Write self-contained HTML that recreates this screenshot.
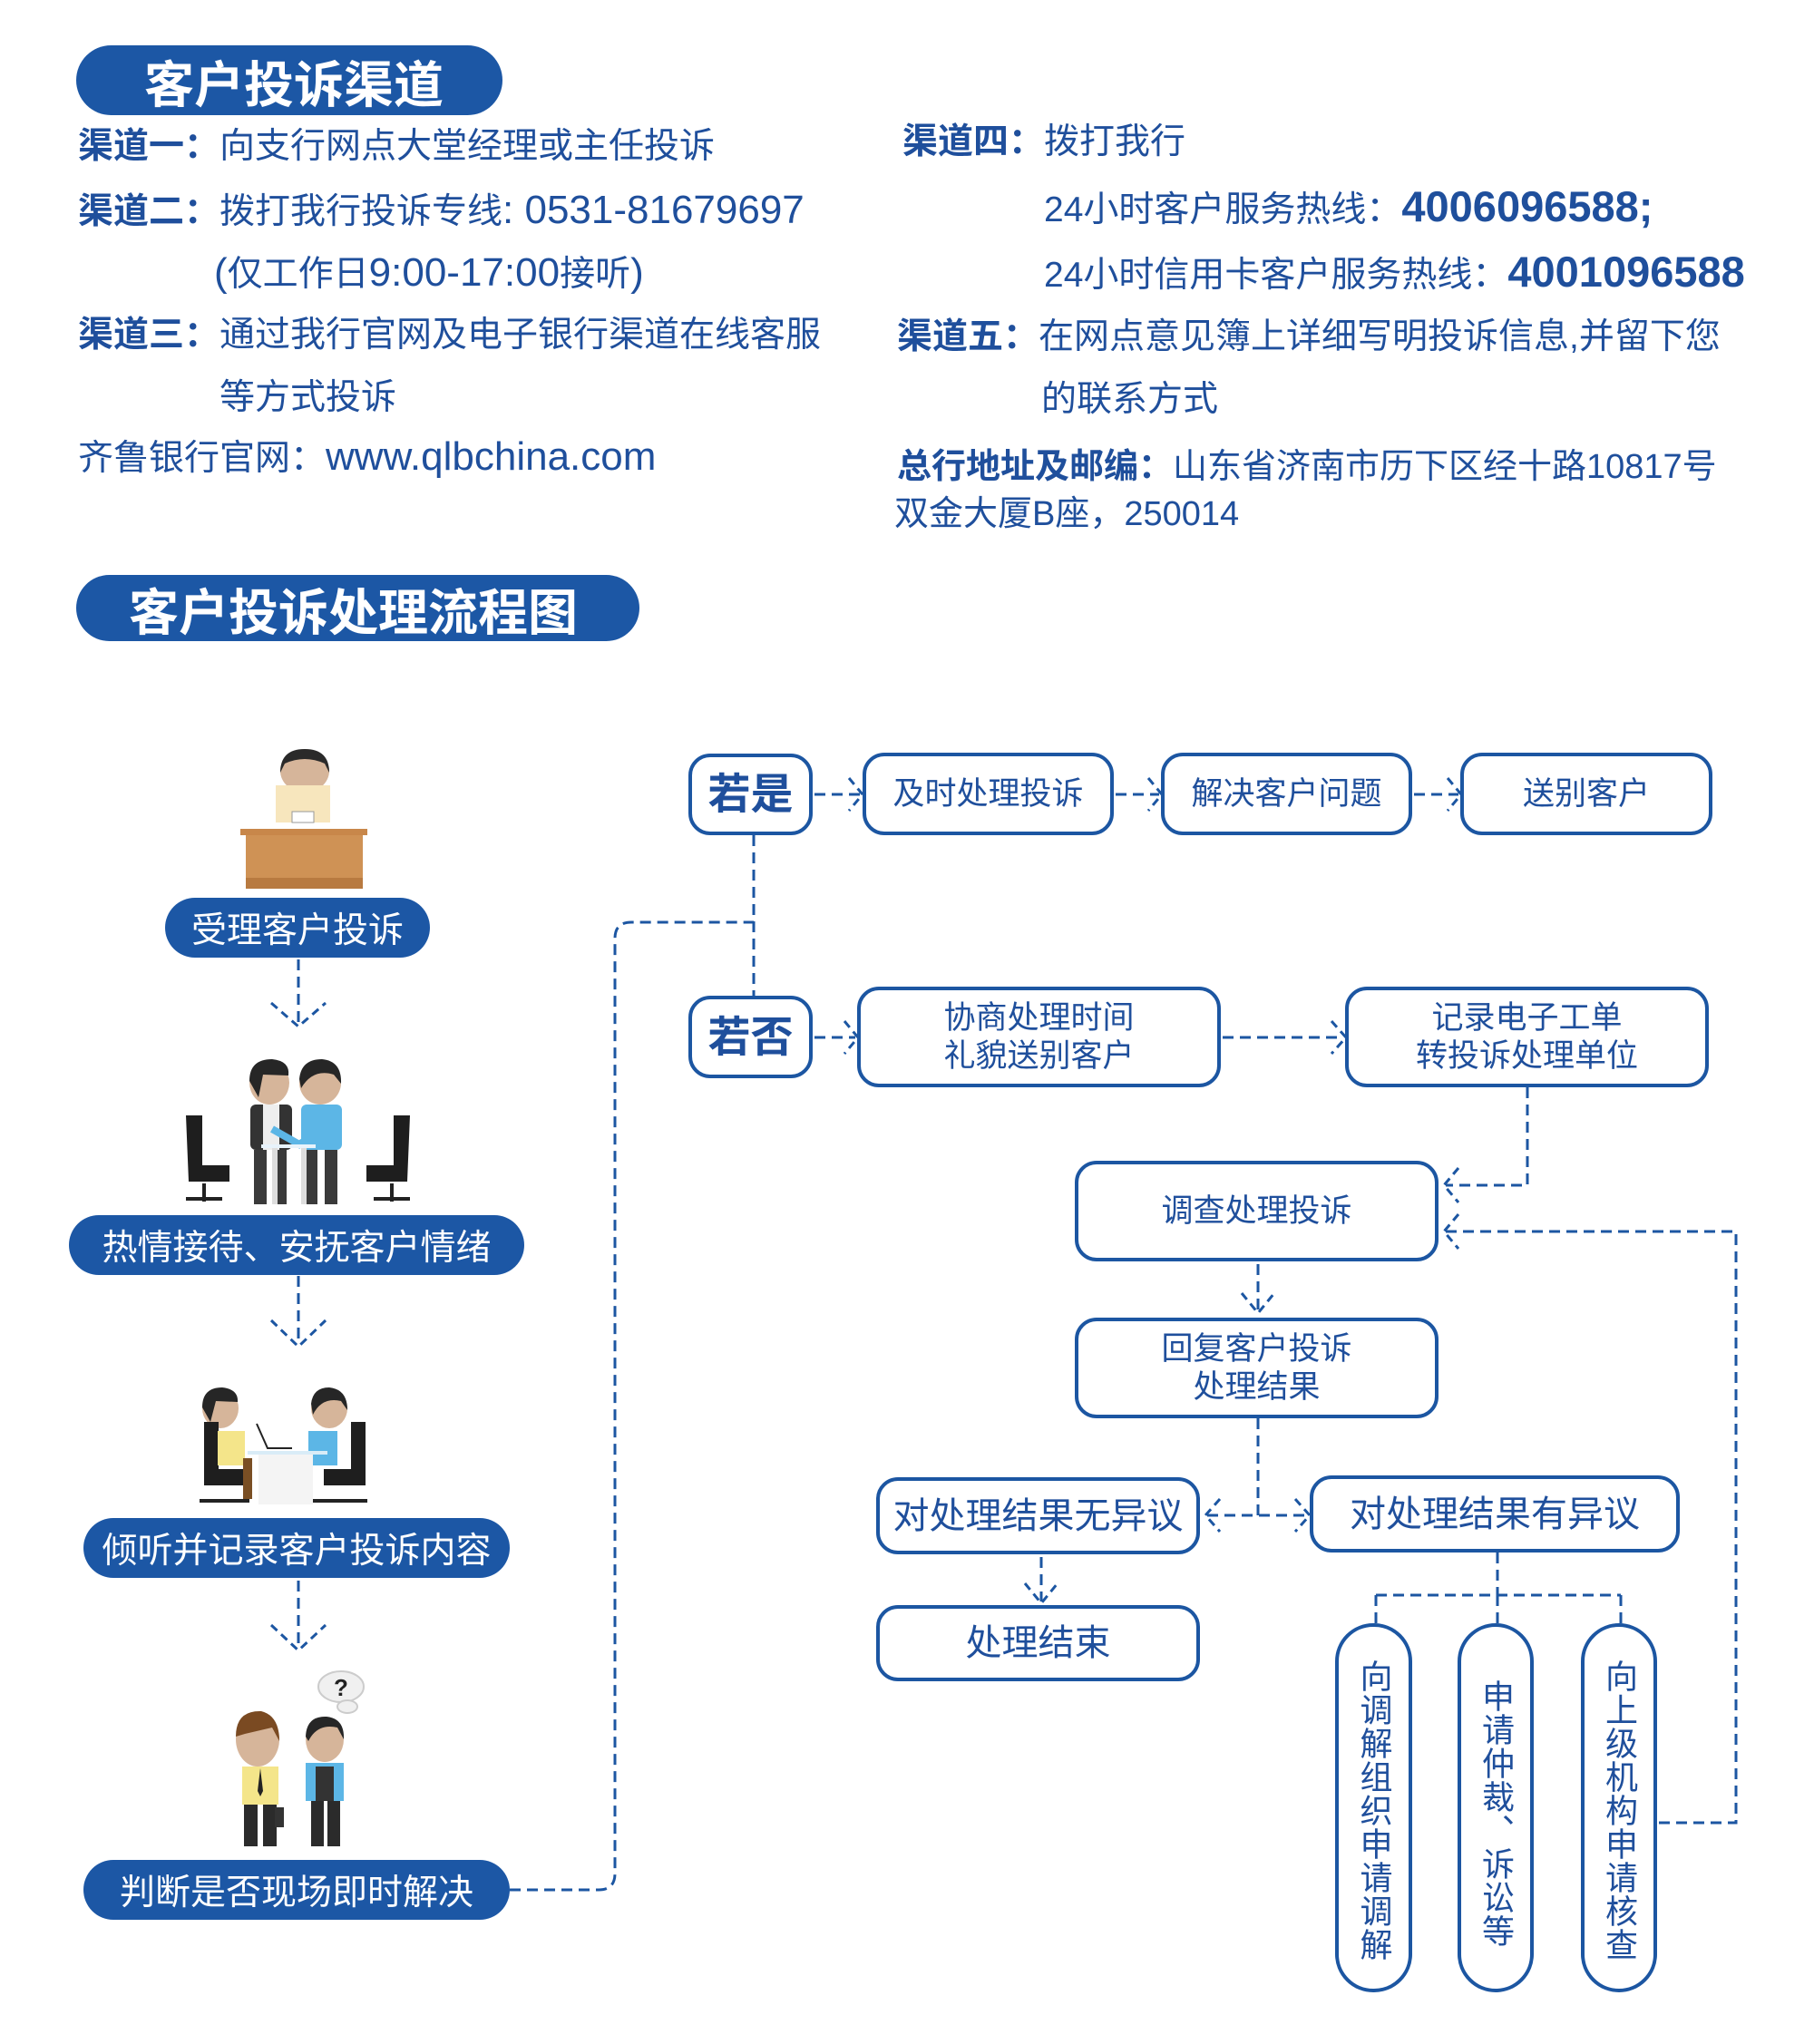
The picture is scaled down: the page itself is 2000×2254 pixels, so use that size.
<!DOCTYPE html>
<html><head><meta charset="utf-8">
<style>
html,body{margin:0;padding:0;background:#fff;}
body{width:2000px;height:2254px;position:relative;overflow:hidden;font-family:"Liberation Sans","Noto Sans CJK SC",sans-serif;color:#1f4f9c;}
.a{position:absolute;white-space:nowrap;line-height:1;}
.t{font-size:39px;}
.L{font-size:44px;}
.b{font-weight:bold;}
.pill{position:absolute;background:#1c57a5;color:#fff;border-radius:60px;display:flex;align-items:center;justify-content:center;white-space:nowrap;}
.box{position:absolute;box-sizing:border-box;border:4px solid #1c56a2;border-radius:24px;background:#fff;display:flex;align-items:center;justify-content:center;text-align:center;font-size:35px;line-height:42px;color:#1f4f9c;}
.v{writing-mode:vertical-rl;text-orientation:upright;justify-content:flex-start;padding-top:36px;font-size:36px;line-height:36px;border-radius:42px;letter-spacing:1px;}
svg{position:absolute;left:0;top:0;}
</style></head><body>

<div class="pill b" style="left:84px;top:50px;width:470px;height:77px;font-size:55px;padding-left:10px;box-sizing:border-box;">客户投诉渠道</div>

<div class="a t" style="left:86px;top:142px;"><span class="b">渠道一：</span>向支行网点大堂经理或主任投诉</div>
<div class="a t" style="left:86px;top:210px;"><span class="b">渠道二：</span>拨打我行投诉专线<span class="L">: 0531-81679697</span></div>
<div class="a t" style="left:236px;top:279px;"><span class="L">(</span>仅工作日<span class="L">9:00-17:00</span>接听<span class="L">)</span></div>
<div class="a t" style="left:86px;top:350px;"><span class="b">渠道三：</span>通过我行官网及电子银行渠道在线客服</div>
<div class="a t" style="left:242px;top:419px;">等方式投诉</div>
<div class="a t" style="left:86px;top:482px;">齐鲁银行官网：<span class="L">www.qlbchina.com</span></div>

<div class="a t" style="left:995px;top:137px;"><span class="b">渠道四：</span>拨打我行</div>
<div class="a t" style="left:1151px;top:204px;">24小时客户服务热线：<span class="b" style="font-size:47px;">4006096588;</span></div>
<div class="a t" style="left:1151px;top:276px;">24小时信用卡客户服务热线：<span class="b" style="font-size:47px;">4001096588</span></div>
<div class="a t" style="left:989px;top:352px;"><span class="b">渠道五：</span>在网点意见簿上详细写明投诉信息,并留下您</div>
<div class="a t" style="left:1148px;top:421px;">的联系方式</div>
<div class="a t" style="left:989px;top:496px;font-size:38px;"><span class="b">总行地址及邮编：</span>山东省济南市历下区经十路10817号</div>
<div class="a t" style="left:986px;top:548px;font-size:38px;">双金大厦B座，250014</div>

<div class="pill b" style="left:84px;top:634px;width:621px;height:73px;font-size:55px;padding-right:10px;box-sizing:border-box;">客户投诉处理流程图</div>

<!-- left pills -->
<div class="pill" style="left:182px;top:990px;width:292px;height:66px;font-size:39px;">受理客户投诉</div>
<div class="pill" style="left:76px;top:1340px;width:502px;height:66px;font-size:39px;">热情接待、安抚客户情绪</div>
<div class="pill" style="left:92px;top:1674px;width:470px;height:66px;font-size:39px;">倾听并记录客户投诉内容</div>
<div class="pill" style="left:92px;top:2051px;width:470px;height:66px;font-size:39px;">判断是否现场即时解决</div>

<svg width="2000" height="2254" viewBox="0 0 2000 2254">
<g fill="none" stroke="#1c56a2" stroke-width="3" stroke-dasharray="12 7">
<path d="M329 1058V1130M329 1407V1483M329 1743V1818"/>
<path d="M562 2084H660Q678 2084 678 2066V1035Q678 1017 696 1017H831"/>
<path d="M898 876H948M1230 876H1278M1559 876H1608M831 921V1098"/>
<path d="M898 1144H943M1348 1144H1481"/>
<path d="M1684 1199V1307H1594"/>
<path d="M1829 2010H1914V1358H1594"/>
<path d="M1387 1394V1448M1387 1564V1671M1331 1671H1442M1148 1717V1766"/>
<path d="M1651 1712V1759M1517 1759H1787M1517 1759V1790M1651 1759V1790M1787 1759V1790"/>
</g>
<g fill="none" stroke="#1c56a2" stroke-width="3" stroke-dasharray="9 6">
<path d="M299 1106L329 1132L359 1106M299 1456L329 1485L359 1456M299 1792L329 1820L359 1792"/>
<path d="M936 858L951 876L936 894M1266 858L1281 876L1266 894M1596 858L1611 876L1596 894"/>
<path d="M931 1126L946 1144L931 1162M1468 1126L1484 1144L1468 1162"/>
<path d="M1608 1288L1592 1307L1608 1326M1608 1339L1592 1358L1608 1377"/>
<path d="M1369 1426L1387 1448L1405 1426M1345 1653L1329 1671L1345 1689M1428 1653L1444 1671L1428 1689M1130 1746L1148 1768L1166 1746"/>
</g>
<!-- illustration 1: desk -->
<g>
<ellipse cx="336" cy="850" rx="27" ry="24" fill="#d6b59a"/>
<path d="M309 852Q309 826 336 826Q363 826 363 852L358 842Q336 832 314 842Z" fill="#2a2a2a"/>
<rect x="304" y="866" width="60" height="41" fill="#f7e6bd"/>
<rect x="322" y="895" width="24" height="12" fill="#fff" stroke="#999" stroke-width="1"/>
<rect x="265" y="914" width="140" height="7" fill="#c8874a"/>
<rect x="271" y="921" width="129" height="47" fill="#cf9255"/>
<rect x="271" y="968" width="129" height="12" fill="#b87a40"/>
</g>
<!-- illustration 2: handshake -->
<g>
<path d="M205 1230h18v55h30v18h-45z" fill="#1e1e1e"/><path d="M225 1305v20M205 1322h40" stroke="#222" stroke-width="4"/>
<path d="M452 1230h-18v55h-30v18h45z" fill="#1e1e1e"/><path d="M432 1305v20M412 1322h40" stroke="#222" stroke-width="4"/>
<ellipse cx="297" cy="1194" rx="22" ry="24" fill="#d6b59a"/><path d="M275 1192Q275 1168 300 1168Q320 1170 318 1186L290 1185L285 1210Z" fill="#262626"/>
<rect x="276" y="1218" width="46" height="50" rx="6" fill="#333"/><rect x="290" y="1218" width="18" height="50" fill="#eee"/>
<rect x="280" y="1268" width="14" height="60" fill="#3a3a3a"/><rect x="302" y="1268" width="14" height="60" fill="#3a3a3a"/>
<ellipse cx="353" cy="1194" rx="23" ry="24" fill="#d6b59a"/><path d="M330 1190Q332 1168 355 1168Q377 1170 376 1195L368 1185Q345 1178 332 1200Z" fill="#262626"/>
<rect x="332" y="1218" width="45" height="50" rx="6" fill="#5cb6e6"/>
<path d="M300 1245L330 1262L350 1248" stroke="#5cb6e6" stroke-width="8" fill="none"/>
<rect x="336" y="1268" width="14" height="60" fill="#3a3a3a"/><rect x="358" y="1268" width="14" height="60" fill="#3a3a3a"/>
<rect x="288" y="1262" width="60" height="4" fill="#e8f3fb"/><rect x="300" y="1266" width="6" height="62" fill="#ddd"/><rect x="332" y="1266" width="6" height="62" fill="#ddd"/>
</g>
<!-- illustration 3 -->
<g>
<ellipse cx="243" cy="1553" rx="20" ry="22" fill="#d6b59a"/><path d="M223 1552Q223 1530 245 1530Q263 1532 262 1546L238 1545L232 1568Z" fill="#262626"/>
<path d="M225 1568h16v52h30v18h-46z" fill="#1e1e1e"/>
<rect x="240" y="1578" width="30" height="38" fill="#f4e58a"/><rect x="268" y="1608" width="10" height="45" fill="#7a4f24"/>
<ellipse cx="363" cy="1553" rx="20" ry="22" fill="#d6b59a"/><path d="M343 1548Q345 1530 363 1530Q383 1532 383 1555L376 1545Q355 1540 345 1560Z" fill="#262626"/>
<path d="M403 1568h-16v52h-30v18h46z" fill="#1e1e1e"/>
<rect x="340" y="1578" width="32" height="38" fill="#5cb6e6"/><rect x="335" y="1612" width="10" height="42" fill="#222"/>
<rect x="273" y="1600" width="88" height="4" fill="#d9ecf7"/><rect x="285" y="1604" width="60" height="55" fill="#f4f4f4"/>
<path d="M283 1570L295 1597H322" stroke="#222" stroke-width="2" fill="none"/>
<path d="M220 1655h55M345 1655h60" stroke="#222" stroke-width="4"/>
</g>
<!-- illustration 4 -->
<g>
<ellipse cx="284" cy="1918" rx="24" ry="30" fill="#d6b59a"/><path d="M260 1915Q260 1886 288 1887Q308 1892 308 1920L300 1905L270 1912Z" fill="#7a4a22"/>
<rect x="267" y="1948" width="40" height="42" fill="#f4e58a"/><path d="M287 1950l-3 25l3 6l3-6z" fill="#222"/>
<rect x="269" y="1990" width="15" height="46" fill="#2b2b2b"/><rect x="290" y="1990" width="15" height="46" fill="#2b2b2b"/>
<rect x="303" y="1993" width="10" height="22" fill="#333"/>
<ellipse cx="358" cy="1918" rx="21" ry="25" fill="#d6b59a"/><path d="M337 1915Q338 1892 360 1893Q380 1895 379 1918L372 1905Q350 1900 340 1920Z" fill="#262626"/>
<rect x="337" y="1944" width="42" height="42" fill="#5cb6e6"/><rect x="348" y="1948" width="20" height="38" fill="#333"/>
<rect x="343" y="1986" width="14" height="50" fill="#2b2b2b"/><rect x="361" y="1986" width="14" height="50" fill="#2b2b2b"/>
<ellipse cx="376" cy="1860" rx="25" ry="17" fill="#f0f0f0" stroke="#ccc" stroke-width="2"/>
<ellipse cx="383" cy="1882" rx="11" ry="7" fill="#f0f0f0" stroke="#ccc" stroke-width="2"/>
<text x="376" y="1870" font-size="26" font-weight="bold" text-anchor="middle" fill="#222" font-family="Liberation Sans, sans-serif">?</text>
</g>
</svg>

<!-- flow boxes -->
<div class="box b" style="left:759px;top:831px;width:137px;height:90px;font-size:47px;">若是</div>
<div class="box" style="left:951px;top:830px;width:277px;height:91px;">及时处理投诉</div>
<div class="box" style="left:1280px;top:830px;width:277px;height:91px;">解决客户问题</div>
<div class="box" style="left:1610px;top:830px;width:278px;height:91px;">送别客户</div>
<div class="box b" style="left:759px;top:1098px;width:137px;height:91px;font-size:47px;">若否</div>
<div class="box" style="left:945px;top:1088px;width:401px;height:111px;">协商处理时间<br>礼貌送别客户</div>
<div class="box" style="left:1483px;top:1088px;width:401px;height:111px;">记录电子工单<br>转投诉处理单位</div>
<div class="box" style="left:1185px;top:1280px;width:401px;height:111px;">调查处理投诉</div>
<div class="box" style="left:1185px;top:1453px;width:401px;height:111px;">回复客户投诉<br>处理结果</div>
<div class="box" style="left:966px;top:1629px;width:357px;height:85px;font-size:40px;">对处理结果无异议</div>
<div class="box" style="left:1444px;top:1627px;width:408px;height:85px;font-size:40px;">对处理结果有异议</div>
<div class="box" style="left:966px;top:1770px;width:357px;height:84px;font-size:40px;">处理结束</div>
<div class="box v" style="left:1472px;top:1790px;width:85px;height:407px;">向调解组织申请调解</div>
<div class="box v" style="left:1607px;top:1790px;width:84px;height:407px;padding-top:58px;">申请仲裁、诉讼等</div>
<div class="box v" style="left:1743px;top:1790px;width:84px;height:407px;">向上级机构申请核查</div>

</body></html>
